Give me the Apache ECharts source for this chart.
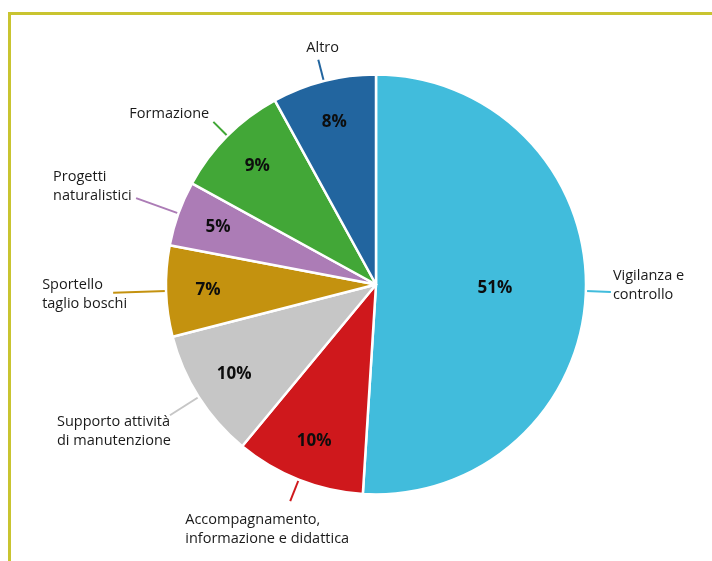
<!DOCTYPE html>
<html>
<head>
<meta charset="utf-8">
<script src="https://cdn.jsdelivr.net/npm/echarts@6/dist/echarts.min.js"></script>
<style>html,body{margin:0;padding:0;background:#fff;}#c{width:712px;height:561px;}</style>
</head>
<body>
<div id="c"></div>
<script>
const categories = ['Vigilanza e\ncontrollo', 'Accompagnamento,\ninformazione e didattica', 'Supporto attività\ndi manutenzione', 'Sportello\ntaglio boschi', 'Progetti\nnaturalistici', 'Formazione', 'Altro'];
const values = [51, 10, 10, 7, 5, 9, 8];
const colors = ['#41bcdc', '#cf181c', '#c6c6c6', '#c4920f', '#ac7cb6', '#42a737', '#22659f'];

// label line lengths and label placement relative to the line end (styling only)
const lineLen = [25, 23, 34, 53, 45, 20, 22];
const place = [
  {dx: 2, dy: -7},
  {dx: -105, dy: 28},
  {dx: -113, dy: 16},
  {dx: -71, dy: 2},
  {dx: -83, dy: -12},
  {dx: -84, dy: -8},
  {dx: -12, dy: -12}
];

const chart = echarts.init(document.getElementById('c'), null, {renderer: 'canvas'});
const FONT = '"Open Sans", "Noto Sans", sans-serif';
const center = [376, 284.5];

const mainData = categories.map((n, i) => ({
  name: n, value: values[i],
  itemStyle: {color: colors[i]},
  labelLine: {length: lineLen[i], length2: 0, lineStyle: {color: colors[i], width: 2}}
}));

function pctData(showIdx) {
  return categories.map((n, i) => ({
    name: n, value: values[i],
    label: {show: showIdx(i)}
  }));
}

const pctLabel = {
  position: 'inside',
  formatter: p => p.value + '%',
  fontFamily: FONT, fontWeight: 'bold', fontSize: 17, color: '#0d0d0d'
};

chart.setOption({
  animation: false,
  graphic: [
    {type: 'rect', shape: {x: 8, y: 12, width: 704, height: 3}, style: {fill: '#c9c430'}, silent: true},
    {type: 'rect', shape: {x: 8, y: 12, width: 3, height: 549}, style: {fill: '#c9c430'}, silent: true}
  ],
  series: [
    {
      type: 'pie',
      center: center,
      radius: [0, 210],
      startAngle: 90,
      clockwise: true,
      avoidLabelOverlap: false,
      minShowLabelAngle: 0,
      silent: true,
      itemStyle: {borderColor: '#fff', borderWidth: 2.5},
      label: {
        show: true, position: 'outside',
        fontFamily: FONT, fontSize: 14.5, color: '#1a1a1a', lineHeight: 19,
        align: 'left'
      },
      labelLine: {show: true, smooth: false},
      labelLayout: function (params) {
        const pts = params.labelLinePoints;
        if (!pts) return {};
        const e = pts[pts.length - 1];
        const pl = place[params.dataIndex];
        return {
          x: e[0] + pl.dx,
          y: e[1] + pl.dy,
          align: 'left',
          verticalAlign: 'middle',
          labelLinePoints: pts
        };
      },
      data: mainData
    },
    {
      type: 'pie', center: center, radius: [0, 232], startAngle: 90, clockwise: true,
      silent: true, z: 5, avoidLabelOverlap: false, minShowLabelAngle: 0,
      itemStyle: {color: 'rgba(0,0,0,0)', borderWidth: 0},
      label: pctLabel, labelLine: {show: false},
      emphasis: {disabled: true},
      data: pctData(i => i === 0)
    },
    {
      type: 'pie', center: center, radius: [120, 210], startAngle: 90, clockwise: true,
      silent: true, z: 5, avoidLabelOverlap: false, minShowLabelAngle: 0,
      itemStyle: {color: 'rgba(0,0,0,0)', borderWidth: 0},
      label: pctLabel, labelLine: {show: false},
      emphasis: {disabled: true},
      data: pctData(i => i !== 0)
    }
  ]
});
</script>
</body>
</html>
